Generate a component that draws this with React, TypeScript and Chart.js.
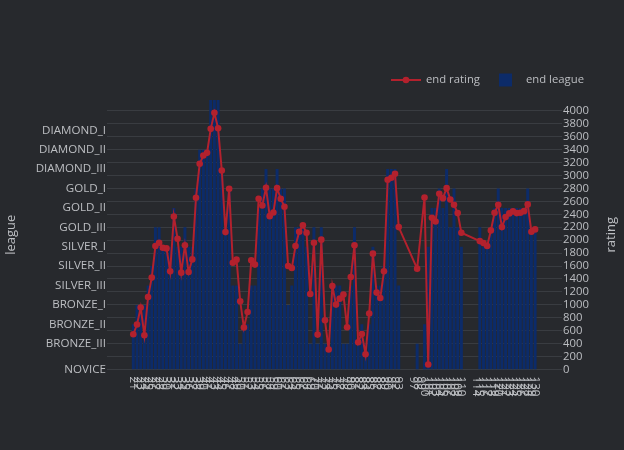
import React, { useEffect, useRef } from "react";
import { Chart, registerables } from "chart.js";

Chart.register(...registerables);

// ---- data ----
const games = [
  21, 22, 23, 24, 25, 26, 27, 28, 29, 30,
  31, 32, 33, 34, 35, 36, 37, 38, 39, 40,
  41, 42, 43, 44, 45, 46, 47, 48, 49, 50,
  51, 52, 53, 54, 55, 56, 57, 58, 59, 60,
  61, 62, 63, 64, 65, 66, 67, 68, 69, 70,
  71, 72, 73, 74, 75, 76, 77, 78, 79, 80,
  81, 82, 83, 84, 85, 86, 87, 88, 89, 90,
  91, 92, 93, 97, 98, 99, 100, 101, 102, 103,
  104, 105, 106, 107, 108, 109, 110, 114, 115, 116,
  117, 118, 119, 120, 121, 122, 123, 124, 125, 126,
  127, 128, 129, 130,
];

const endRatings: (number | null)[] = [
  545, 695, 957, 530, 1121, 1421, 1909, 1961, 1884, 1873,
  1518, 2367, 2023, 1498, 1920, 1507, 1703, 2656, 3181, 3309,
  3351, 3722, 3969, 3731, 3078, 2125, 2795, 1652, 1699, 1055,
  649, 890, 1688, 1622, 2641, 2537, 2811, 2372, 2429, 2805,
  2641, 2517, 1600, 1569, 1909, 2131, 2229, 2116, 1168, 1961,
  540, 2008, 761, 309, 1291, 1004, 1096, 1158, 653, 1430,
  1920, 422, 550, 236, 865, 1792, 1189, 1106, 1518, 2934,
  2965, 3027, 2202, null, 1560, null, 2661, 77, 2347, 2290,
  2718, 2650, 2805, 2630, 2548, 2419, 2116, null, 1986, 1955,
  1909, 2151, 2424, 2548, 2202, 2357, 2414, 2445, 2419, 2424,
  2449, 2553, 2131, 2167,
];

const endLeagues = [
  "BRONZE_II", "BRONZE_I", "BRONZE_I", "BRONZE_I", "SILVER_III", "SILVER_II", "GOLD_III", "GOLD_III", "SILVER_I", "SILVER_I",
  "SILVER_I", "GOLD_II", "SILVER_I", "SILVER_I", "GOLD_III", "SILVER_I", "SILVER_I", "GOLD_I", "DIAMOND_II", "DIAMOND_II",
  "DIAMOND_II", "MASTER", "MASTER", "MASTER", "DIAMOND_III", "GOLD_III", "GOLD_I", "SILVER_III", "SILVER_III", "BRONZE_III",
  "BRONZE_II", "BRONZE_II", "SILVER_III", "SILVER_III", "GOLD_II", "GOLD_I", "DIAMOND_III", "GOLD_I", "GOLD_I", "DIAMOND_III",
  "GOLD_I", "GOLD_I", "BRONZE_I", "SILVER_III", "GOLD_III", "GOLD_III", "GOLD_III", "SILVER_I", "BRONZE_III", "GOLD_III",
  "BRONZE_III", "GOLD_III", "BRONZE_III", "BRONZE_III", "SILVER_III", "SILVER_III", "SILVER_III", "BRONZE_III", "BRONZE_III", "SILVER_III",
  "GOLD_III", "BRONZE_III", "BRONZE_II", "BRONZE_III", "BRONZE_II", "SILVER_I", "SILVER_III", "SILVER_III", "SILVER_II", "DIAMOND_III",
  "DIAMOND_III", "DIAMOND_III", "SILVER_III", "NOVICE", "BRONZE_III", "NOVICE", "BRONZE_II", "SILVER_I", "GOLD_II", "GOLD_II",
  "GOLD_I", "GOLD_II", "DIAMOND_III", "GOLD_III", "GOLD_I", "GOLD_III", "SILVER_I", "NOVICE", "GOLD_III", "SILVER_I",
  "SILVER_I", "GOLD_III", "GOLD_II", "GOLD_I", "GOLD_II", "GOLD_II", "GOLD_II", "GOLD_II", "GOLD_II", "GOLD_II",
  "GOLD_II", "GOLD_I", "GOLD_III", "GOLD_III",
];

const leagueTicks = [
  "NOVICE", "BRONZE_III", "BRONZE_II", "BRONZE_I",
  "SILVER_III", "SILVER_II", "SILVER_I",
  "GOLD_III", "GOLD_II", "GOLD_I",
  "DIAMOND_III", "DIAMOND_II", "DIAMOND_I",
];

const ratingTicks = [
  0, 200, 400, 600, 800, 1000, 1200, 1400, 1600, 1800, 2000,
  2200, 2400, 2600, 2800, 3000, 3200, 3400, 3600, 3800, 4000,
];

// ---- styling ----
const FONT = "'Open Sans', sans-serif";
const TEXT = "#bcbec2";
const GRID = "#393c41";
const BG = "#27292d";
const RED = "#b3212d";
const NAVY = "#0c2b69";

const LEAGUE_MIN = -0.33;
const LEAGUE_MAX = 13.56;
const GAME_MIN = 13.86;
const GAME_MAX = 137.3;
const RATING_MAX = 4168;

function leagueValue(name: string): number {
  if (name === "NOVICE") return LEAGUE_MIN;
  const i = leagueTicks.indexOf(name);
  return i >= 0 ? i : leagueTicks.length + 1;
}

const overlay = {
  id: "overlay",
  afterDraw(chart: any) {
    const ctx = chart.ctx as CanvasRenderingContext2D;
    const xs = chart.scales.x;
    const area = chart.chartArea;
    ctx.save();
    ctx.fillStyle = TEXT;
    // x tick labels (rotated, reading top to bottom)
    ctx.font = `11.6px ${FONT}`;
    ctx.textAlign = "left";
    ctx.textBaseline = "middle";
    games.forEach((g) => {
      const px = xs.getPixelForValue(g);
      ctx.save();
      ctx.translate(px, area.bottom + 7);
      ctx.rotate(Math.PI / 2);
      ctx.fillText(String(g), 0, 0);
      ctx.restore();
    });
    // axis titles
    ctx.font = `13px ${FONT}`;
    ctx.textAlign = "center";
    const cy = (area.top + area.bottom) / 2;
    ([["league", 11], ["rating", 611]] as [string, number][]).forEach(([t, cx]) => {
      ctx.save();
      ctx.translate(cx, cy);
      ctx.rotate(-Math.PI / 2);
      ctx.fillText(t, 0, 0);
      ctx.restore();
    });
    // legend
    ctx.font = `11.3px ${FONT}`;
    ctx.textAlign = "left";
    ctx.strokeStyle = RED;
    ctx.lineWidth = 2;
    ctx.beginPath();
    ctx.moveTo(391, 80);
    ctx.lineTo(421, 80);
    ctx.stroke();
    ctx.fillStyle = RED;
    ctx.beginPath();
    ctx.arc(406, 80, 3.3, 0, Math.PI * 2);
    ctx.fill();
    ctx.fillStyle = TEXT;
    ctx.fillText(chart.data.datasets[0].label, 426, 80);
    ctx.fillStyle = NAVY;
    ctx.fillRect(499, 73.5, 13, 13);
    ctx.fillStyle = TEXT;
    ctx.fillText(chart.data.datasets[1].label, 526, 80);
    ctx.restore();
  },
};

export default function App() {
  const ref = useRef<HTMLCanvasElement | null>(null);

  useEffect(() => {
    let chart: Chart | null = null;
    let cancelled = false;
    const make = () => {
      if (cancelled || !ref.current) return;
      chart = new Chart(ref.current, {
        type: "bar",
        data: {
          datasets: [
            {
              type: "line",
              label: "end rating",
              data: games.map((g, i) => ({ x: g, y: endRatings[i] })),
              yAxisID: "y2",
              borderColor: RED,
              backgroundColor: RED,
              borderWidth: 2,
              pointRadius: 3.3,
              pointBorderWidth: 0,
              pointBackgroundColor: RED,
              spanGaps: true,
              tension: 0,
              order: 0,
            } as any,
            {
              type: "bar",
              label: "end league",
              data: games.map((g, i) => ({ x: g, y: leagueValue(endLeagues[i]) })),
              yAxisID: "y",
              base: LEAGUE_MIN,
              backgroundColor: NAVY,
              borderWidth: 0,
              barPercentage: 0.8,
              categoryPercentage: 1,
              clip: 0,
              order: 1,
            } as any,
          ],
        },
        options: {
          responsive: false,
          devicePixelRatio: 1,
          animation: false,
          events: [],
          layout: { padding: { top: 100, bottom: 80.5, left: 0, right: 0 } },
          plugins: {
            legend: { display: false },
            tooltip: { enabled: false },
          },
          scales: {
            x: {
              type: "linear",
              display: false,
              offset: false,
              min: GAME_MIN,
              max: GAME_MAX,
              bounds: "data",
            },
            y: {
              type: "linear",
              position: "left",
              min: LEAGUE_MIN,
              max: LEAGUE_MAX,
              bounds: "data",
              grid: { display: false, drawTicks: false },
              border: { display: false },
              afterBuildTicks: (s: any) => {
                s.ticks = leagueTicks.map((_, i) => ({ value: i === 0 ? LEAGUE_MIN : i }));
              },
              afterFit: (s: any) => {
                s.width = 107;
              },
              ticks: {
                padding: 1,
                color: TEXT,
                font: { family: FONT, size: 11.6 },
                autoSkip: false,
                callback: (_v: any, i: number) => leagueTicks[i],
              },
            },
            y2: {
              type: "linear",
              position: "right",
              min: 0,
              max: RATING_MAX,
              bounds: "data",
              grid: { display: true, color: GRID, lineWidth: 1, drawTicks: false },
              border: { display: false },
              afterBuildTicks: (s: any) => {
                s.ticks = ratingTicks.map((v) => ({ value: v }));
              },
              afterFit: (s: any) => {
                s.width = 62;
              },
              ticks: {
                padding: 1,
                color: TEXT,
                font: { family: FONT, size: 11.3 },
                autoSkip: false,
                callback: (v: any) => String(v),
              },
            },
          },
        } as any,
        plugins: [overlay],
      });
    };
    const fontsApi = (document as any).fonts;
    if (fontsApi && fontsApi.load) {
      Promise.all([
        fontsApi.load(`11.3px ${FONT}`),
        fontsApi.load(`13px ${FONT}`),
      ]).then(make, make);
    } else {
      make();
    }
    return () => {
      cancelled = true;
      if (chart) chart.destroy();
    };
  }, []);

  return (
    <div style={{ width: 624, height: 450, background: BG }}>
      <style>{`body{margin:0;background:${BG};}`}</style>
      <canvas ref={ref} width={624} height={450} style={{ display: "block" }} />
    </div>
  );
}
